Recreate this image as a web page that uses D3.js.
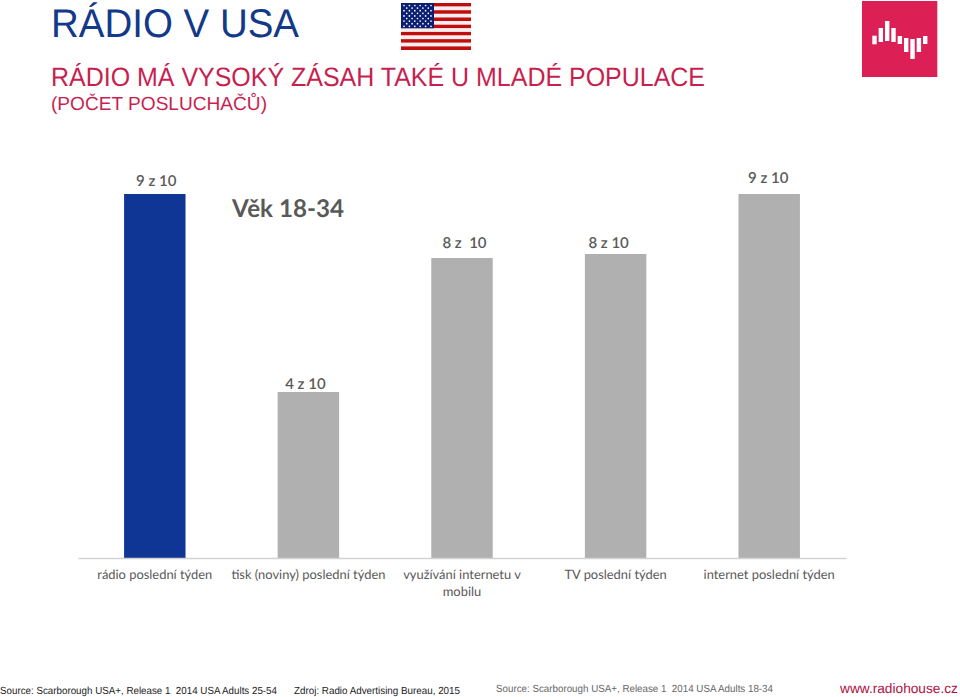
<!DOCTYPE html>
<html><head><meta charset="utf-8">
<script src="https://cdn.jsdelivr.net/npm/d3@7/dist/d3.min.js"></script>
<style>html,body{margin:0;padding:0;background:#fff}svg{display:block}text{white-space:pre;text-rendering:geometricPrecision}</style>
</head><body><svg id="c" width="960" height="697"></svg>
<script>
const categories = ["rádio poslední týden","tisk (noviny) poslední týden","využívání internetu v|mobilu","TV poslední týden","internet poslední týden"];
const values = [91, 41.5, 75, 76, 91];
const valueLabels = ["9 z 10","4 z 10","8 z  10","8 z 10","9 z 10"];
const labelDx = [1.5,-3,2.5,-7,-1];
const labelDy = [8,3,10,6,11];
const barColors = ["#103695","#b0b0b0","#b0b0b0","#b0b0b0","#b0b0b0"];
const logoTops = [35.7,28,21,28,36,38,39,38,36];
const logoBottoms = [44.3,42,41,42,44,52,59,52,44];
const SANS = "Liberation Sans, Arial, sans-serif", BODY = "Lato, sans-serif";

const svg = d3.select("#c");
const x = d3.scaleBand().domain(categories).range([78,846]).paddingInner(0.6).paddingOuter(0.3);
const y = d3.scaleLinear().domain([0,100]).range([558,158]);

function text(s,px,py,size,fill,family,anchor,len,weight){
  const t = svg.append("text").attr("x",px).attr("y",py).attr("font-size",size).attr("fill",fill)
    .attr("font-family",family).attr("text-anchor",anchor||"start").text(s);
  if(len) t.attr("textLength",len).attr("lengthAdjust","spacingAndGlyphs");
  if(weight) t.attr("font-weight",weight);
  return t;
}
// Titles
text("RÁDIO V USA",51,37,40,"#123a88",SANS,"start",248);
text("RÁDIO MÁ VYSOKÝ ZÁSAH TAKÉ U MLADÉ POPULACE",51,86,26.5,"#c81f50",SANS,"start",654);
text("(POČET POSLUCHAČŮ)",51,110,19,"#c81f50",SANS,"start",216);

// Flag
const fx = d3.scaleLinear().domain([0,1]).range([401,471]);
const fy = d3.scaleBand().domain(d3.range(13)).range([3,50]);
const flag = svg.append("g");
flag.selectAll("rect.s").data(d3.range(13)).join("rect").attr("class","s")
  .attr("x",fx(0)).attr("width",fx(1)-fx(0)).attr("y",d=>fy(d)).attr("height",fy.bandwidth())
  .attr("fill",d=>d%2?"#f6eeee":"#c00d0d");
flag.append("rect").attr("x",401).attr("y",3).attr("width",33).attr("height",25.3).attr("fill","#0b1f72");
const stars=[]; d3.range(9).forEach(r=>d3.range(r%2?5:6).forEach(c=>stars.push([r,c])));
flag.selectAll("circle").data(stars).join("circle")
  .attr("cx",d=>404+d[0]%2*2.7+d[1]*5.4).attr("cy",d=>5.5+d[0]*2.6).attr("r",0.85).attr("fill","#fff");

// Logo
svg.append("rect").attr("x",862).attr("y",1).attr("width",75.3).attr("height",76).attr("fill","#dc1f54");
const lx = d3.scaleLinear().domain([0,8]).range([872.3,923]);
svg.append("g").selectAll("rect").data(logoTops).join("rect")
  .attr("x",(d,i)=>lx(i)).attr("width",4.4).attr("y",d=>d).attr("height",(d,i)=>logoBottoms[i]-d).attr("fill","#fff");

// Bars
svg.append("g").selectAll("rect").data(values).join("rect")
  .attr("x",(d,i)=>x(categories[i])).attr("width",x.bandwidth())
  .attr("y",d=>y(d)).attr("height",d=>y(0)-y(d)).attr("fill",(d,i)=>barColors[i]);
// Axis
const axG = svg.append("g").attr("transform","translate(0,558)").call(d3.axisBottom(x).tickSize(0).tickFormat(""));
axG.select(".domain").attr("stroke","#d2d2d2").attr("stroke-width",1.5);
categories.forEach(c=>{
  c.split("|").forEach((ln,i)=>text(ln,x(c)+x.bandwidth()/2,579+i*17,12.9,"#595959",BODY,"middle"));
});
// Value labels
values.forEach((v,i)=>{
  text(valueLabels[i],x(categories[i])+x.bandwidth()/2+labelDx[i],y(v)-labelDy[i],15,"#595959",BODY,"middle",null,600);
});
text("Věk 18-34",232,217,24.5,"#595959",BODY,"start",112,700);

// Footer
text("Source: Scarborough USA+, Release 1  2014 USA Adults 25-54",0,694,10.3,"#222",SANS,"start",277);
text("Zdroj: Radio Advertising Bureau, 2015",294,694,10.3,"#222",SANS,"start",166);
text("Source: Scarborough USA+, Release 1  2014 USA Adults 18-34",496,692,10.3,"#666",SANS,"start",277);
text("www.radiohouse.cz",840,693,13.7,"#b0103f",SANS,"start");
</script></body></html>
